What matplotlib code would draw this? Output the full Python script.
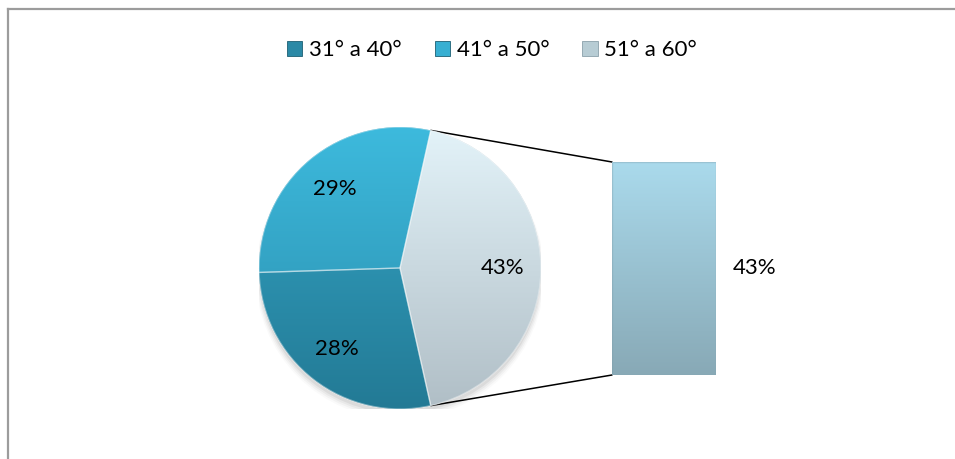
import numpy as np
import matplotlib
matplotlib.use("Agg")
import matplotlib.pyplot as plt
from matplotlib.patches import Patch, ConnectionPatch, Circle, Wedge
from matplotlib.colors import LinearSegmentedColormap

# ---- data ----
categories = ["31° a 40°", "41° a 50°", "51° a 60°"]
values = [28, 29, 43]
split_index = 2           # slice broken out into the bar
bar_values = [43]
bar_labels = ["43%"]

# ---- styles ----
top_colors = ["#34a6c7", "#3dbadd", "#e3f3f9"]
bot_colors = ["#237a95", "#2a8cab", "#b0bec6"]
legend_colors = ["#2b89a6", "#37afd2", "#b7ccd4"]
bar_top, bar_bot = "#aadaec", "#88a9b6"

plt.rcParams['font.family'] = ['Lato', 'DejaVu Sans']

W, H = 955, 459
fig = plt.figure(figsize=(W / 100, H / 100), dpi=100)
fig.patch.set_facecolor("white")

# outer frame (left and top visible)
fig.add_artist(plt.Line2D([7.5 / W, 7.5 / W], [0, 1 - 8.5 / H], color="#9c9c9c", lw=1.6))
fig.add_artist(plt.Line2D([7.5 / W, 1], [1 - 8.5 / H, 1 - 8.5 / H], color="#9c9c9c", lw=1.6))

# ---- pie ----
cx, cy, r = 400, 268, 141
ax = fig.add_axes([(cx - r) / W, (H - cy - r) / H, 2 * r / W, 2 * r / H])
total = sum(values)
split_angle = values[split_index] / total * 360.0

# soft shadow
for k, a in enumerate([0.05, 0.04, 0.03, 0.02]):
    ax.add_patch(Circle((0.0, -0.03 - 0.006 * k), 1.0 + 0.008 * k, color="black",
                        alpha=a, lw=0, zorder=0))

wedges, texts, autotexts = ax.pie(
    values, startangle=-split_angle / 2, counterclock=False, radius=1,
    autopct=lambda p: f"{p:.0f}%", pctdistance=0.73,
    textprops=dict(fontsize=16, color="black"),
    wedgeprops=dict(linewidth=0), frame=False)

grad = np.linspace(0, 1, 256).reshape(-1, 1)
for i, w in enumerate(wedges):
    w.set_facecolor(bot_colors[i])
    w.set_zorder(1)
    cmap = LinearSegmentedColormap.from_list(f"g{i}", [top_colors[i], bot_colors[i]])
    im = ax.imshow(grad, extent=[-1, 1, -1, 1], origin="upper", aspect="auto",
                   cmap=cmap, interpolation="bilinear", zorder=2)
    im.set_clip_path(w)
    # subtle bevel edge
    ax.add_patch(Wedge(w.center, w.r, w.theta1, w.theta2,
                       facecolor="none", edgecolor="#ffffff",
                       lw=1.0, alpha=0.4, zorder=3))
for t in autotexts:
    t.set_zorder(6)

ax.set_xlim(-1, 1)
ax.set_ylim(-1, 1)
ax.set_aspect("auto")
ax.axis("off")

# ---- bar ----
bx = fig.add_axes([612 / W, (H - 375) / H, 104 / W, 213 / H])
bars = bx.bar([0], bar_values, width=1, color=bar_bot, linewidth=0, zorder=1)
bcmap = LinearSegmentedColormap.from_list("bar", [bar_top, bar_bot])
bim = bx.imshow(grad, extent=[-0.5, 0.5, 0, sum(bar_values)], origin="upper",
                aspect="auto", cmap=bcmap, interpolation="bilinear", zorder=2)
bim.set_clip_path(bars[0])
bx.add_patch(matplotlib.patches.Rectangle((-0.5, 0), 1, sum(bar_values), facecolor="none",
                                          edgecolor="#7f9ca7", lw=1.0, alpha=0.35, zorder=3))
bx.set_xlim(-0.5, 0.5)
bx.set_ylim(0, sum(bar_values))
bx.axis("off")
for b, lab in zip(bars, bar_labels):
    bx.annotate(lab, xy=(b.get_x() + b.get_width(), b.get_y() + b.get_height() / 2),
                xytext=(39, 0), textcoords="offset pixels", ha="center", va="center",
                fontsize=16, color="black", annotation_clip=False)

# ---- connector lines ----
half = np.deg2rad(split_angle / 2)
for sgn, ybar in [(1, sum(bar_values)), (-1, 0)]:
    con = ConnectionPatch(xyA=(np.cos(half), sgn * np.sin(half)), coordsA=ax.transData,
                          xyB=(-0.5, ybar), coordsB=bx.transData,
                          color="black", lw=1.1, zorder=0)
    fig.add_artist(con)

# ---- legend ----
handles = [Patch(facecolor=c, edgecolor="#1d5f73" if i < 2 else "#8aa0aa", lw=0.6, label=cat)
           for i, (c, cat) in enumerate(zip(legend_colors, categories))]
fig.legend(handles=handles, loc="center", bbox_to_anchor=(492 / W, 1 - 50 / H), ncol=3,
           frameon=False, fontsize=16, handlelength=0.68, handleheight=0.68,
           handletextpad=0.3, columnspacing=1.5)

fig.savefig("out.png", dpi=100, facecolor="white")
